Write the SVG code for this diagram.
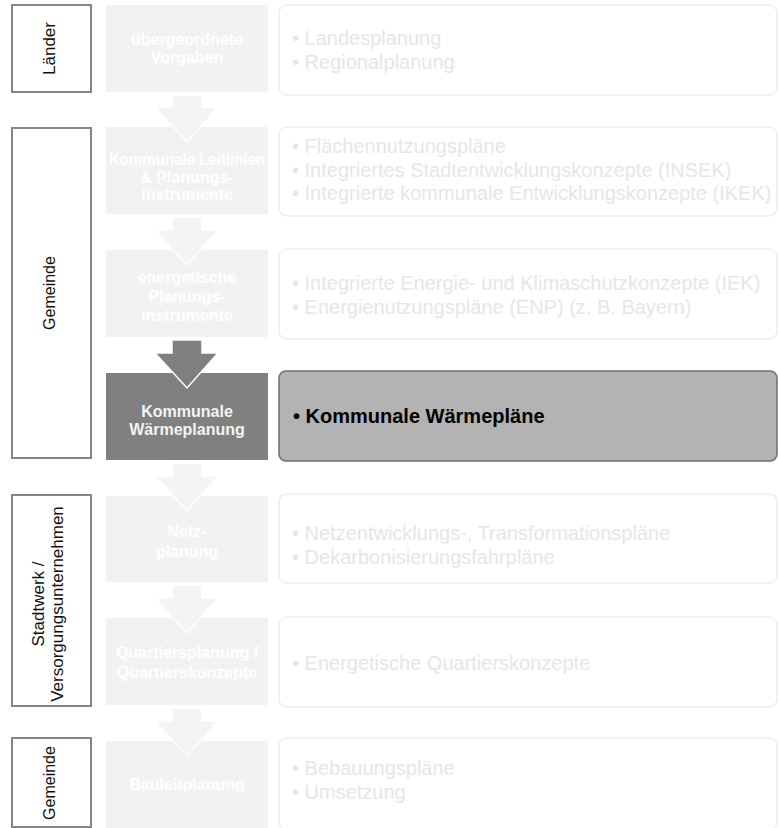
<svg xmlns="http://www.w3.org/2000/svg" width="779" height="828" viewBox="0 0 779 828">
<style>
.lbl{fill:#fff;stroke:#858585;stroke-width:2}
.lt{font-family:"Liberation Sans",Arial,sans-serif;fill:#111;text-anchor:middle}
.mb{fill:#f2f2f2}
.mbd{fill:#808080}
.mt{font-family:"Liberation Sans",Arial,sans-serif;font-weight:bold;font-size:16px;fill:#ffffff;text-anchor:middle}
.mtd{fill:#f4f4f4}
.rb{fill:#fff;stroke:#eeeeee;stroke-width:1.5}
.rbh{fill:#b3b3b3;stroke:#6e6e6e;stroke-width:1.5}
.rt{font-family:"Liberation Sans",Arial,sans-serif;font-size:20px;fill:#e6e6e6}
.rth{font-family:"Liberation Sans",Arial,sans-serif;font-size:20px;font-weight:bold;fill:#000}
.arr{fill:#f4f4f4;stroke:#fff;stroke-width:1.5;stroke-linejoin:miter}
.arrd{fill:#7f7f7f;stroke:#fff;stroke-width:1.5;stroke-linejoin:miter}
</style>
<rect width="779" height="828" fill="#fff"/>

<!-- left actor labels -->
<g id="label-laender">
<rect class="lbl" x="12" y="5" width="79" height="87"/>
<text class="lt" font-size="17" transform="translate(51 48.5) rotate(-90)" y="4">Länder</text>
</g>
<g id="label-gemeinde1">
<rect class="lbl" x="12" y="128" width="79" height="330"/>
<text class="lt" font-size="16" transform="translate(51 293) rotate(-90)" y="4">Gemeinde</text>
</g>
<g id="label-stadtwerk">
<rect class="lbl" x="12" y="495" width="79" height="211"/>
<text class="lt" font-size="17" transform="translate(51 604) rotate(-90)"><tspan x="0" y="-7">Stadtwerk /</tspan><tspan x="0" y="11.5">Versorgungsunternehmen</tspan></text>
</g>
<g id="label-gemeinde2">
<rect class="lbl" x="12" y="738" width="79" height="89"/>
<text class="lt" font-size="16" transform="translate(51 783) rotate(-90)" y="4">Gemeinde</text>
</g>

<!-- middle process boxes -->
<g id="step1">
<rect class="mb" x="106" y="5" width="162" height="87"/>
<text class="mt"><tspan x="187" y="45">übergeordnete</tspan><tspan x="187" y="63">Vorgaben</tspan></text>
</g>
<g id="step2">
<rect class="mb" x="106" y="127" width="162" height="87"/>
<text class="mt"><tspan x="187" y="165" textLength="156" lengthAdjust="spacingAndGlyphs">Kommunale Leitlinien</tspan><tspan x="187" y="182.5">&amp; Planungs-</tspan><tspan x="187" y="200">instrumente</tspan></text>
</g>
<g id="step3">
<rect class="mb" x="106" y="250" width="162" height="87"/>
<text class="mt"><tspan x="187" y="283">energetische</tspan><tspan x="187" y="302">Planungs-</tspan><tspan x="187" y="321">instrumente</tspan></text>
</g>
<g id="step4">
<rect class="mbd" x="106" y="373" width="162" height="87"/>
<text class="mt mtd"><tspan x="187" y="417">Kommunale</tspan><tspan x="187" y="435">Wärmeplanung</tspan></text>
</g>
<g id="step5">
<rect class="mb" x="106" y="496" width="162" height="86"/>
<text class="mt"><tspan x="187" y="537">Netz-</tspan><tspan x="187" y="557">planung</tspan></text>
</g>
<g id="step6">
<rect class="mb" x="106" y="618" width="162" height="87"/>
<text class="mt"><tspan x="187" y="658">Quartiersplanung /</tspan><tspan x="187" y="678">Quartierskonzepte</tspan></text>
</g>
<g id="step7">
<rect class="mb" x="106" y="741" width="162" height="90"/>
<text class="mt"><tspan x="187" y="790">Bauleitplanung</tspan></text>
</g>

<!-- connectors (block arrows) -->
<g id="connectors">
<path class="arr" d="M172 95 H202 V107 H218 L187 142 L155 107 H172 Z"/>
<path class="arr" d="M172 217 H202 V230 H218 L187 265 L155 230 H172 Z"/>
<path class="arrd" d="M172 340 H202 V353 H218 L187 388 L155 353 H172 Z"/>
<path class="arr" d="M172 463 H202 V476 H218 L187 511 L155 476 H172 Z"/>
<path class="arr" d="M172 585 H202 V598 H218 L187 633 L155 598 H172 Z"/>
<path class="arr" d="M172 708 H202 V721 H218 L187 756 L155 721 H172 Z"/>
</g>

<!-- right description boxes -->
<g id="desc1">
<rect class="rb" x="279" y="5" width="498" height="90" rx="8"/>
<text class="rt"><tspan x="292" y="45">• Landesplanung</tspan><tspan x="292" y="69">• Regionalplanung</tspan></text>
</g>
<g id="desc2">
<rect class="rb" x="279" y="127" width="498" height="89" rx="8"/>
<text class="rt"><tspan x="292" y="153">• Flächennutzungspläne</tspan><tspan x="292" y="177">• Integriertes Stadtentwicklungskonzepte (INSEK)</tspan><tspan x="292" y="200">• Integrierte kommunale Entwicklungskonzepte (IKEK)</tspan></text>
</g>
<g id="desc3">
<rect class="rb" x="279" y="249" width="498" height="90" rx="8"/>
<text class="rt"><tspan x="292" y="290">• Integrierte Energie- und Klimaschutzkonzepte (IEK)</tspan><tspan x="292" y="314">• Energienutzungspläne (ENP) (z. B. Bayern)</tspan></text>
</g>
<g id="desc4">
<rect class="rbh" x="279" y="371" width="498" height="90" rx="7"/>
<text class="rth" x="293" y="423">• Kommunale Wärmepläne</text>
</g>
<g id="desc5">
<rect class="rb" x="279" y="494" width="498" height="89" rx="8"/>
<text class="rt"><tspan x="292" y="540">• Netzentwicklungs-, Transformationspläne</tspan><tspan x="292" y="564">• Dekarbonisierungsfahrpläne</tspan></text>
</g>
<g id="desc6">
<rect class="rb" x="279" y="617" width="498" height="90" rx="8"/>
<text class="rt"><tspan x="292" y="670">• Energetische Quartierskonzepte</tspan></text>
</g>
<g id="desc7">
<rect class="rb" x="279" y="738" width="498" height="92" rx="8"/>
<text class="rt"><tspan x="292" y="775">• Bebauungspläne</tspan><tspan x="292" y="799">• Umsetzung</tspan></text>
</g>
</svg>
